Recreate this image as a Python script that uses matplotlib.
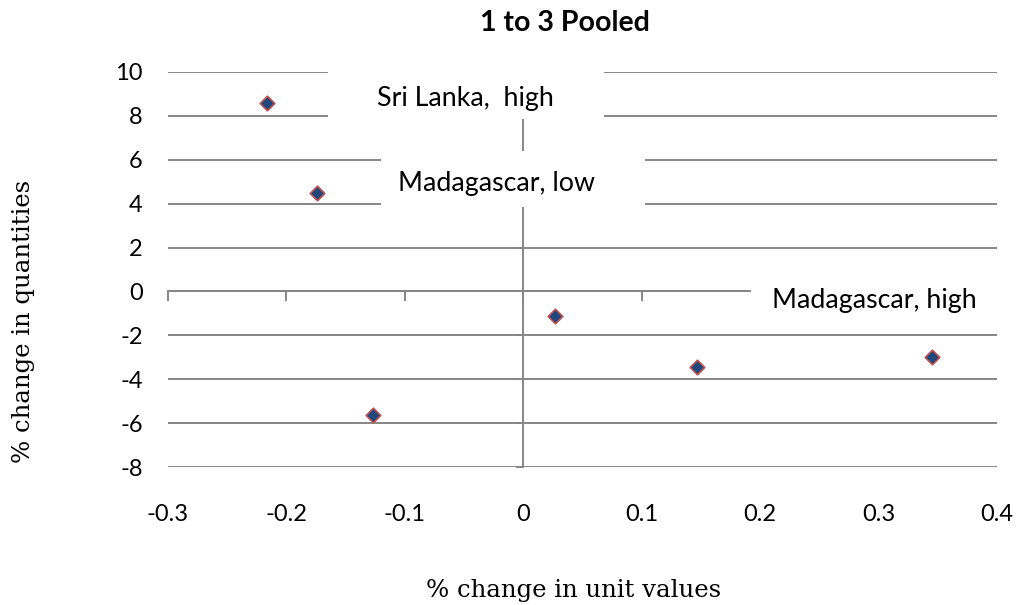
import numpy as np
import matplotlib.pyplot as plt
from matplotlib.patches import Rectangle

# % change in unit values vs % change in quantities
unit_values = [-0.216, -0.174, -0.127, 0.027, 0.147, 0.345]
quantities = [8.6, 4.5, -5.65, -1.1, -3.45, -3.0]

labels = ['Sri Lanka,  high', 'Madagascar, low', 'Madagascar, high']
label_pos = [(-0.049, 8.43), (-0.023, 4.60), (0.2965, -0.775)]
# white boxes behind the labels (x0, x1, y0, y1)
label_box = [(-0.165, 0.068, 7.84, 10.3), (-0.120, 0.103, 3.83, 6.38),
             (0.1926, 0.42, -1.6, 1.3)]

grid_col = '#868686'

fig = plt.figure(figsize=(10.18, 6.05), dpi=100)
ax = fig.add_axes([0.165, 0.228, 0.8144, 0.653])

ax.set_xlim(-0.3, 0.4)
ax.set_ylim(-8, 10)
ax.set_xticks(np.arange(-0.3, 0.41, 0.1))
ax.set_yticks(np.arange(-8, 11, 2))
ax.set_xticklabels(['-0.3', '-0.2', '-0.1', '0', '0.1', '0.2', '0.3', '0.4'])
ax.set_yticklabels([str(v) for v in range(-8, 11, 2)])

for s in ['top', 'right']:
    ax.spines[s].set_visible(False)
ax.spines['bottom'].set_position(('data', 0))
ax.spines['left'].set_position(('data', 0))
for s in ['bottom', 'left']:
    ax.spines[s].set_color(grid_col)
    ax.spines[s].set_linewidth(1.4)
    ax.spines[s].set_zorder(1)

ax.yaxis.grid(True, color=grid_col, linewidth=1.4, zorder=0)
ax.set_axisbelow(True)

ax.tick_params(axis='x', direction='out', length=7, width=1.4, color=grid_col,
               pad=146, labelsize=17)
ax.tick_params(axis='y', direction='out', length=5, width=1.4, color=grid_col,
               pad=269, labelsize=17)
for t in ax.get_xticklabels() + ax.get_yticklabels():
    t.set_family('Lato')

for (x0, x1, y0, y1) in label_box:
    ax.add_patch(Rectangle((x0, y0), x1 - x0, y1 - y0, facecolor='white',
                           edgecolor='none', zorder=2, clip_on=False))
for txt, (lx, ly) in zip(labels, label_pos):
    ax.text(lx, ly, txt, ha='center', va='baseline', fontsize=19.3,
            family='Lato', zorder=4)

ax.scatter(unit_values, quantities, marker='D', s=55, facecolor='#1F497D',
           edgecolor='#C0504D', linewidth=1.2, zorder=5, clip_on=False)

fig.text(0.555, 0.949, '1 to 3 Pooled', ha='center', va='baseline',
         fontsize=20.5, fontweight='bold', family='Lato')
fig.text(0.563, 0.0135, '% change in unit values', ha='center', va='baseline',
         fontsize=17.6, family='DejaVu Serif')
fig.text(0.023, 0.468, '% change in quantities', ha='center', va='center',
         rotation=90, fontsize=17.6, family='DejaVu Serif')

fig.savefig('out.png', dpi=100)
